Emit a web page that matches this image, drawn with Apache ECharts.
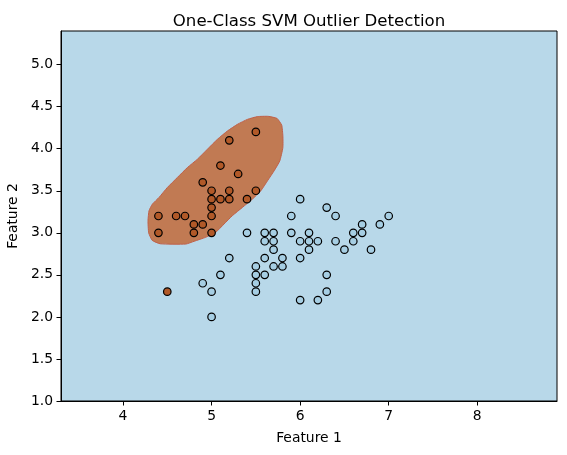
<!DOCTYPE html>
<html>
<head>
<meta charset="utf-8">
<script src="https://cdn.jsdelivr.net/npm/echarts@6/dist/echarts.min.js"></script>
<style>
  html, body { margin: 0; padding: 0; background: #fff; }
  #chart { width: 567px; height: 455px; }
</style>
</head>
<body>
<div id="chart"></div>
<script>
// setosa samples (brown) - sepal length, sepal width
const setosaPts = [
  [5.5, 4.2], [5.2, 4.1], [5.1, 3.8], [5.3, 3.7], [4.9, 3.6], [5.0, 3.5],
  [5.2, 3.5], [5.5, 3.5], [5.0, 3.4], [5.1, 3.4], [5.2, 3.4], [5.4, 3.4],
  [5.0, 3.3], [4.4, 3.2], [4.6, 3.2], [4.7, 3.2], [5.0, 3.2], [4.8, 3.1],
  [4.9, 3.1], [4.4, 3.0], [4.8, 3.0], [5.0, 3.0], [4.5, 2.3]
]

// versicolor samples (light blue)
const versicolorPts = [
  [6.0, 3.4], [6.3, 3.3], [5.9, 3.2], [6.4, 3.2], [7.0, 3.2], [6.7, 3.1],
  [6.9, 3.1], [5.4, 3.0], [5.6, 3.0], [5.7, 3.0], [5.9, 3.0], [6.1, 3.0],
  [6.6, 3.0], [6.7, 3.0], [5.6, 2.9], [5.7, 2.9], [6.0, 2.9], [6.1, 2.9],
  [6.2, 2.9], [6.4, 2.9], [6.6, 2.9], [5.7, 2.8], [6.1, 2.8], [6.5, 2.8],
  [6.8, 2.8], [5.2, 2.7], [5.6, 2.7], [5.8, 2.7], [6.0, 2.7], [5.5, 2.6],
  [5.7, 2.6], [5.8, 2.6], [5.1, 2.5], [5.5, 2.5], [5.6, 2.5], [6.3, 2.5],
  [4.9, 2.4], [5.5, 2.4], [5.0, 2.3], [5.5, 2.3], [6.3, 2.3], [6.0, 2.2],
  [6.2, 2.2], [5.0, 2.0]
]

// decision boundary (inlier region) traced in data units
const boundary = [
  [4.294, 3.263], [4.282, 3.145], [4.290, 3.000], [4.330, 2.910], [4.420, 2.870],
  [4.708, 2.866], [4.802, 2.899], [4.934, 2.947], [5.047, 3.006], [5.141, 3.105],
  [5.235, 3.204], [5.348, 3.302], [5.461, 3.401], [5.556, 3.500], [5.631, 3.618],
  [5.706, 3.737], [5.770, 3.855], [5.805, 4.013], [5.805, 4.152], [5.792, 4.280],
  [5.740, 4.360], [5.640, 4.385], [5.518, 4.382], [5.405, 4.349], [5.292, 4.290],
  [5.179, 4.211], [5.066, 4.112], [4.953, 3.994], [4.840, 3.875], [4.727, 3.776],
  [4.614, 3.658], [4.501, 3.539], [4.407, 3.421], [4.331, 3.340]
]

const xTicks = [4, 5, 6, 7, 8]
const yTicks = [1.0, 1.5, 2.0, 2.5, 3.0, 3.5, 4.0, 4.5, 5.0]

const font = 'DejaVu Sans'
let chart = echarts.init(document.getElementById('chart'))

chart.setOption({
  animation: false,
  textStyle: { fontFamily: font },
  title: {
    text: 'One-Class SVM Outlier Detection',
    left: 304,
    top: 8,
    textAlign: 'center',
    textStyle: { fontFamily: font, fontSize: 16.6, fontWeight: 'normal', color: '#000' }
  },
  grid: {
    left: 61, right: 10, top: 31, bottom: 54,
    outerBoundsMode: 'none',
    containLabel: false,
    show: true,
    backgroundColor: '#b8d8e9',
    borderColor: '#000',
    borderWidth: 1
  },
  xAxis: {
    type: 'value',
    min: 3.3, max: 8.9,
    name: 'Feature 1',
    nameLocation: 'middle',
    nameGap: 30,
    nameTextStyle: { fontFamily: font, fontSize: 13.9, color: '#000' },
    splitLine: { show: false },
    axisLine: { lineStyle: { color: '#000', width: 1 } },
    axisTick: { customValues: xTicks, length: 4.5, lineStyle: { color: '#000' } },
    axisLabel: {
      customValues: xTicks,
      margin: 8,
      fontFamily: font, fontSize: 13.9, color: '#000',
      formatter: v => String(v)
    }
  },
  yAxis: {
    type: 'value',
    min: 1.0, max: 5.4,
    name: 'Feature 2',
    nameLocation: 'middle',
    nameGap: 35,
    nameRotate: 90,
    nameTextStyle: { fontFamily: font, fontSize: 13.9, color: '#000' },
    splitLine: { show: false },
    axisLine: { show: true, lineStyle: { color: '#000', width: 1 } },
    axisTick: { show: true, customValues: yTicks, length: 4.5, lineStyle: { color: '#000' } },
    axisLabel: {
      customValues: yTicks,
      margin: 8,
      fontFamily: font, fontSize: 13.9, color: '#000',
      formatter: v => v.toFixed(1)
    }
  },
  series: [
    {
      type: 'custom',
      z: 1,
      clip: true,
      silent: true,
      data: [boundary[0]],
      renderItem: function (params, api) {
        const pts = boundary.map(p => api.coord(p))
        return {
          type: 'polygon',
          shape: { points: pts, smooth: 0.15 },
          style: { fill: '#c17a53', stroke: '#c0604a', lineWidth: 1 }
        }
      }
    },
    {
      type: 'scatter',
      z: 3,
      data: setosaPts,
      symbolSize: 7.5,
      itemStyle: { color: '#b15928', borderColor: '#000', borderWidth: 1.2, opacity: 1 }
    },
    {
      type: 'scatter',
      z: 3,
      data: versicolorPts,
      symbolSize: 7.5,
      itemStyle: { color: '#a6cee3', borderColor: '#000', borderWidth: 1.2, opacity: 1 }
    }
  ]
})
</script>
</body>
</html>
